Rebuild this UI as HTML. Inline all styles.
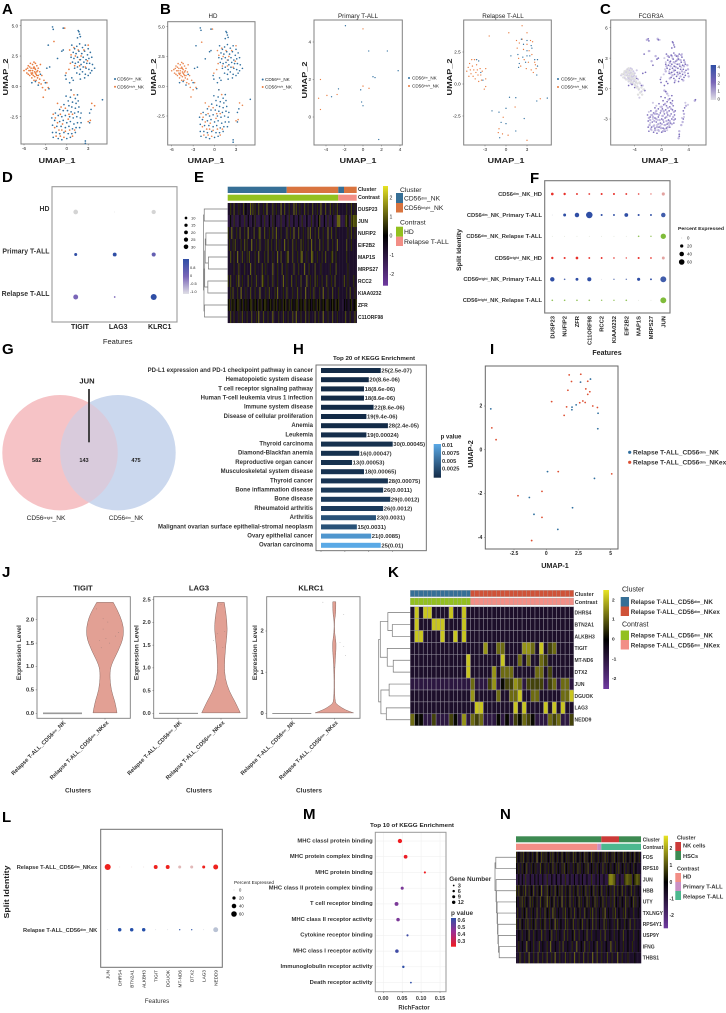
<!DOCTYPE html>
<html lang="en"><head><meta charset="utf-8"><title>Multi-panel single-cell figure</title>
<style>
html,body{margin:0;padding:0;background:#fff}
#figure{display:block;width:726px;height:1013px;font-family:"Liberation Sans",sans-serif;filter:blur(.25px)}
</style></head><body>
<svg id="figure" xmlns="http://www.w3.org/2000/svg" width="726" height="1013" viewBox="0 0 726 1013">
<defs>
<linearGradient id="heatGrad" x1="0" y1="0" x2="0" y2="1"><stop offset="0" stop-color="#e8e424"/><stop offset=".5" stop-color="#000"/><stop offset="1" stop-color="#6f3aa0"/></linearGradient>
<linearGradient id="purpleGrad" x1="0" y1="0" x2="0" y2="1"><stop offset="0" stop-color="#2f4ea5"/><stop offset=".5" stop-color="#7a66b8"/><stop offset="1" stop-color="#e0dfe6"/></linearGradient>
<linearGradient id="pGrad" x1="0" y1="0" x2="0" y2="1"><stop offset="0" stop-color="#5aa9e6"/><stop offset="1" stop-color="#132b47"/></linearGradient>
<linearGradient id="mGrad" x1="0" y1="0" x2="0" y2="1"><stop offset="0" stop-color="#3050a8"/><stop offset=".5" stop-color="#a02d90"/><stop offset="1" stop-color="#f01c20"/></linearGradient>
</defs>
<rect width="726" height="1013" fill="#fff"/>
<g id="pA"></g>
<g id="pB"></g>
<g id="pC"></g>
<g id="pD"></g>
<g id="pE"></g>
<g id="pF"></g>
<g id="pG">
<circle cx="60" cy="452.7" r="57.7" fill="#f6c3c6"/>
<circle cx="118" cy="452.7" r="57.7" fill="#cbd8ee"/>
<path d="M89 402.8A57.7 57.7 0 0 1 89 502.6A57.7 57.7 0 0 1 89 402.8Z" fill="#d9cbdc"/>
<line x1="89" y1="389" x2="89" y2="442.3" stroke="#333" stroke-width="1.8"/>
</g>
<g id="pH"></g>
<g id="pI"></g>
<g id="pJ"></g>
<g id="pK"></g>
<g id="pL"></g>
<g id="pM"></g>
<g id="pN"></g>
</svg>
<script>
/* ---------- data ---------- */
const dimCells=[[0.7,3.4],[1.1,3.1],[1.4,3.3],[1.8,3.5],[2.2,3.2],[2.6,3.4],[3.0,3.1],[0.9,2.8],[1.3,2.7],[1.7,2.9],[2.1,2.7],[2.5,2.9],[2.9,2.6],[3.3,2.8],[0.6,2.4],[1.0,2.3],[1.5,2.4],[1.9,2.2],[2.3,2.4],[2.7,2.2],[3.1,2.3],[3.5,2.4],[0.8,2.0],[1.2,1.9],[1.6,2.0],[2.0,1.8],[2.4,2.0],[2.8,1.9],[3.2,1.9],[3.6,1.8],[1.1,1.5],[1.5,1.6],[1.9,1.4],[2.3,1.6],[2.7,1.5],[3.1,1.4],[3.5,1.3],[3.9,1.5],[1.4,1.1],[1.8,1.0],[2.2,1.2],[2.6,1.0],[3.0,0.9],[3.3,1.1],[2.5,0.7],[1.9,0.6],[-2.0,4.9],[-1.9,4.7],[-2.6,3.4],[-0.5,4.8],[1.7,4.5],[1.8,4.3],[1.9,4.1],[1.5,4.0],[1.6,4.6],[-0.5,3.0],[-0.7,2.9],[-1.3,2.3],[-0.2,0.9],[-0.1,0.6],[0.7,0.7],[0.9,0.5],[-3.0,0.3],[-2.5,-0.2],[-2.8,1.5],[-2.4,1.6],[0.4,0.3],[0.6,-0.3],[-0.1,-0.8],[0.5,-0.9],[1.2,-1.0],[1.5,-0.7],[0.2,-1.2],[0.8,-1.3],[1.3,-1.4],[1.6,-1.2],[-0.4,-1.5],[0.3,-1.6],[0.7,-1.7],[1.2,-1.8],[1.7,-1.7],[-1.0,-1.9],[-0.5,-2.0],[0.1,-2.0],[0.6,-2.1],[1.1,-2.2],[1.6,-2.1],[2.0,-2.2],[-1.6,-2.2],[-1.2,-2.4],[-0.7,-2.5],[-0.2,-2.4],[0.4,-2.5],[0.9,-2.6],[1.4,-2.5],[1.9,-2.6],[-2.1,-2.6],[-1.7,-2.8],[-1.0,-2.9],[-0.5,-2.8],[0.0,-3.0],[0.5,-2.9],[1.0,-3.1],[1.5,-3.0],[2.0,-3.0],[-2.0,-3.2],[-1.4,-3.3],[-0.8,-3.3],[-0.2,-3.4],[0.3,-3.3],[0.8,-3.5],[1.3,-3.4],[1.8,-3.4],[-2.0,-3.8],[-1.5,-3.8],[-1.0,-3.9],[-0.4,-3.8],[0.2,-3.9],[0.7,-3.9],[1.2,-3.8],[-1.9,-4.2],[-1.2,-4.3],[-0.7,-4.4],[0.0,-4.3],[0.5,-4.2],[2.6,-4.7],[2.6,-4.5],[3.2,-2.2],[3.2,-3.0],[3.4,-1.9],[5.0,-1.1],[-4.4,0.4],[-4.0,0.1],[-3.7,1.0],[-4.9,0.3]];
const brightCells=[[-6.0,1.3],[-5.7,1.4],[-5.6,1.1],[-5.4,1.7],[-5.3,1.3],[-5.2,0.9],[-5.1,1.9],[-5.0,1.5],[-5.0,1.1],[-4.9,0.7],[-4.8,1.8],[-4.8,1.3],[-4.7,0.9],[-4.6,2.0],[-4.6,1.6],[-4.5,1.2],[-4.5,0.8],[-4.4,1.9],[-4.4,1.4],[-4.3,1.0],[-4.3,0.5],[-4.2,1.7],[-4.2,1.2],[-4.1,0.7],[-4.0,1.5],[-4.0,0.9],[-3.9,0.3],[-3.8,1.2],[-3.8,0.6],[-3.7,1.8],[-3.6,0.2],[-3.5,0.9],[-3.4,-0.1],[-3.2,0.5],[-3.0,-0.3],[-2.8,0.3],[-3.3,-0.9],[-2.6,-0.1],[-5.5,1.5],[-5.2,1.6],[-5.4,1.0],[-4.9,1.0],[-4.7,1.5],[-4.4,1.1],[-4.1,1.3],[-4.6,0.5],[-5.1,1.3],[-4.8,1.1],[-4.5,1.5],[-4.2,0.9],[1.0,3.2],[1.6,3.0],[2.4,3.0],[3.0,3.4],[0.4,3.0],[0.6,2.6],[1.2,2.5],[2.0,2.5],[2.9,2.1],[0.5,1.9],[1.1,1.7],[1.8,1.7],[-0.1,1.1],[0.3,1.4],[-1.8,3.7],[-0.3,4.8],[1.8,2.2],[2.6,1.6],[-1.3,-1.4],[-0.8,-1.7],[-0.2,-1.8],[-1.6,-2.6],[-0.9,-2.3],[0.3,-2.3],[0.8,-2.3],[-1.3,-3.0],[-0.6,-3.1],[0.2,-2.7],[-1.7,-3.4],[-1.1,-3.6],[-0.7,-3.6],[-0.2,-3.7],[-1.5,-4.1],[-0.9,-4.1],[-0.4,-4.2],[0.4,-3.6],[0.8,-4.1],[1.1,-3.6],[3.3,-2.8],[3.0,-2.9],[3.9,-1.6],[3.5,-1.4],[0.6,-0.3],[1.0,-0.7],[-1.9,-2.3]];
const primaryDim=[[-3.4,1.08],[-2.65,1.5],[-1.9,4.87],[-0.25,1.45],[-0.15,0.8],[0.62,3.52],[2.63,3.52],[3.8,2.47],[1.08,2.15],[1.3,2.1],[0,0.6],[1.7,-1.2]];
const primaryBright=[[-4.8,1.0],[-4.6,2.0],[-4.6,0.4],[-3.9,1.15],[-2.8,1.2],[0,1.65],[0.65,1.53],[0,4.7]];
const relapseDim=[[-4.2,1.9],[-3.9,1.8],[-3.6,0.9],[-3.3,0.3],[2.2,3.5],[2.5,3.1],[3.0,3.4],[3.6,3.0],[3.0,2.6],[3.7,2.8],[1.7,2.3],[2.4,2.1],[3.0,2.2],[3.4,2.2],[4.1,1.9],[4.5,1.9],[4.5,1.4],[2.8,1.7],[1.9,1.6],[1.8,1.3],[0.7,2.2],[4.4,0.7],[0.5,-1.04],[1.4,-1.07],[-2,-2.1],[-1,-2.2],[0,-1.9],[-0.7,-3],[0,-3.1],[1.4,-3.67],[2.6,-2.7],[4.4,-1.33],[5.9,-1.1],[-0.9,-4.2]];
const relapseBright=[[-5.6,1.0],[-5.4,1.3],[-5.3,0.6],[-5.2,1.6],[-5.1,1.1],[-5.0,0.8],[-4.9,1.9],[-4.8,1.4],[-4.7,0.6],[-4.6,1.1],[-4.5,1.9],[-4.4,0.4],[-4.3,0.9],[-4.2,1.5],[-4.1,1.1],[-4.0,0.7],[-3.9,0.2],[-3.7,1.2],[-3.6,0.7],[-3.5,0.3],[-3.4,1.0],[-2.9,1.2],[-2.9,0.4],[-3.1,-0.4],[-2.9,-0.2],[-2.4,3.75],[0.4,4.0],[2.3,4.55],[3.0,4.0],[1.5,3.4],[1.9,3.2],[2.3,3.5],[3.0,3.1],[3.5,3.4],[3.8,3.3],[1.6,2.8],[2.5,2.7],[3.3,2.6],[3.7,2.3],[1.8,2.0],[2.6,1.9],[3.2,1.7],[4.1,1.7],[2.1,1.4],[2.9,1.2],[3.6,1.1],[4.3,1.2],[3.9,0.9],[4.2,1.5],[1.3,-1.8],[-0.4,-2.6],[-1,-3.5],[-1.1,-3.8],[-0.5,-3.9],[0.3,-4],[4.9,-1.15],[3,-4.4]];
const fcgr3aLow=[[0.9,3.2],[1.5,3.2],[2.0,3.3],[2.4,3.2],[2.9,3.3],[1.2,2.6],[1.8,2.6],[2.3,2.8],[2.8,2.8],[3.4,2.6],[3.8,2.3],[0.7,2.2],[1.3,2.2],[2.1,2.1],[2.6,2.4],[3.3,2.2],[3.9,1.9],[0.6,1.7],[1.3,1.5],[1.8,1.8],[2.4,1.4],[3.0,1.7],[3.4,1.6],[4.0,1.2],[1.2,1.0],[1.6,1.3],[2.0,0.8],[2.8,1.2],[3.2,0.8],[0.4,-0.2],[0.8,-0.5],[1.0,-1.1],[0.5,-1.5],[1.5,-1.5],[0.0,-1.8],[0.9,-1.9],[1.4,-2.0],[-0.8,-2.2],[-0.1,-2.2],[0.3,-2.2],[0.8,-2.4],[1.8,-2.3],[-1.4,-2.6],[-1.0,-2.5],[-0.4,-2.6],[0.1,-2.7],[0.7,-2.8],[1.2,-2.7],[1.7,-2.8],[-1.9,-2.9],[-1.3,-2.8],[-0.8,-3.0],[-0.3,-3.1],[0.2,-3.1],[0.7,-3.2],[1.2,-3.2],[1.8,-3.1],[-1.7,-3.1],[-1.1,-3.2],[-0.5,-3.5],[0.0,-3.5],[0.5,-3.6],[1.0,-3.4],[1.5,-3.5],[-1.8,-3.6],[-1.2,-3.7],[-0.7,-3.8],[-0.1,-3.9],[0.4,-4.0],[0.9,-3.8],[-1.6,-4.0],[-1.0,-4.1],[-0.5,-4.1],[0.2,-4.2],[3.3,-2.5],[3.1,-3.3],[2.9,-3.6],[2.6,-4.2],[2.5,-4.9],[3.6,-1.7],[4.9,-1.2],[-2.2,4.8],[-0.6,4.9],[-1.9,3.7],[-0.9,3.2],[-1.5,2.7]];
const fcgr3aZero=[[-5.9,1.4],[-5.7,1.1],[-5.5,1.7],[-5.4,1.3],[-5.3,0.9],[-5.2,1.8],[-5.1,1.5],[-5.0,1.2],[-4.9,0.8],[-4.9,2.0],[-4.8,1.6],[-4.7,1.2],[-4.6,0.7],[-4.5,1.8],[-4.5,1.4],[-4.4,1.0],[-4.3,0.6],[-4.2,1.4],[-4.1,0.9],[-4.0,0.4],[-3.9,1.1],[-3.8,0.7],[-3.7,0.1],[-3.6,0.5],[-3.4,0.0],[-3.3,0.6],[-3.2,-0.4],[-3.0,0.1],[-2.9,-0.6],[-2.7,-0.1],[-3.5,-0.6],[-5.6,1.5],[-5.0,1.7],[-4.6,1.0],[-4.3,1.5],[-3.8,0.2]];

const heatValues=[-0.65,-1.0,0.1,0.8,1.3,1.8,2.4];
const eGenes=["DUSP23","JUN","NUFIP2","EIF2B2","MAP1S","MRPS27","RCC2","KIAA0232","ZFR","C11ORF98"];
const eRows=[
"00300400030004020005040300400030050000400300050040003000504003000400300040003005000400040030040000000300040030",
"11211311112111311211121311112113111211312111131112113111211121131112111311211241112113111211155511113421143544",
"30050003004000300500004000350004000300400500030000400300500040003000405000300400030005004000300000000030040030",
"03003040000300403000500030040000304003000400300050030004003000403000300500300040030004000300050000000400030000",
"00400300500040003040000300500003004000300050040000350004000300450003000540003000300400003400300000000300000000",
"00000300040000300005000300000400300000500030004000300000400030000500030000400003000000030000400000000030000000",
"30400003050030000400300040000530003000400030000500300040003000400005003000403000300040003004000000040030000300",
"00304000300500030004000300050000300400003050000300400003000400300050003004000030050003000400003000000300400030",
"23032302330230232023302320323023320232032302320323023032023302320330232023203230232033202320323000120200230223",
"00400300030040003000400030500040003000500003000400030004005000300040030000400300050003000400030000004000300040"];
const kGenes=["DHRS4","BTN2A1","ALKBH3","TIGIT","MT-ND6","DTX2","JUN","DGUOK","LAG3","NEDD9"];
const kRows=[
"06066000060060000000000000000000000000",
"06000666000060000000000000000000000000",
"06600006006060000000000000000000000000",
"00000000000000000500440000554060340000",
"00000000000006000000060004040043000000",
"00000000000006000005044400000440300000",
"11111111111111411135123354133331341441",
"00000000000000500000400446004400000446",
"00000000000000066000000060600006060600",
"42211311132151434111212132432111434113"];
const kGroupSplit=14;
const nGenes=["FOS","RPS10","JUN","HBB","UTY","TXLNGY","RPS4Y1","USP9Y","IFNG","THBS1"];
const nRows=[
"30203040203020302050204030302030402030204020303020403020302040302040302030203040302030402030204030203020402030",
"20300302040003020300040203003020400302003040203000302040300203040020300302004003020300203040020300302003020000",
"11211211311121112112111211131112111211121113111211121112112111211131112112111211146665531112111345544412345441",
"30402030400302040030205003040203004020304003020400302040030204003020400302040003020300400302040030020400300200",
"20030403020040302030040203050302040030205003020400300204030020403002040300204003000300402003020040300204030020",
"03000302040003020040030004020300503002000304002030040020300040200304003002003050020003040020003040020003000200",
"30040200304003020400030204000302005030020004030020400030204000302004003002000403002000300402000302004000300000",
"00200300020400030020004003000204000300200040030002040003000200400030002000300040002000300020004000200003000200",
"00300200050020030000400200030050002000300400020003000500020040003000200400030002000500030020003000200030000200",
"00040003000500030004000300040003005000300004000300050003000400030005000400030000400030000500030000300000200000"];

const dTerms=["TIGIT","LAG3","KLRC1"];
const dGroups=["HD","Primary T-ALL","Relapse T-ALL"];
const dPct=[[22,0.5,18],[9,15,17],[24,3,36]];
const dExpr=[[-1,-1,-1],[1,1,0.3],[0,0,1]];
const dLegendPct=[10,15,20,25,30];
const dLegendBar=["0.8","0","-0.5","-1.0"];

const fGenes=["DUSP23","NUFIP2","ZFR","C11ORF98","RCC2","KIAA0232","EIF2B2","MAP1S","MRPS27","JUN"];
const fPct=[[10,8,6,5,6,6,5,4,3,14],[1,12,28,60,6,5,20,6,5,28],[1,1,1,1,1,1,1,4,3,40],[8,6,10,5,5,4,3,6,4,12],[28,4,12,24,1,3,3,14,5,50],[4,4,4,4,3,3,4,1,1,50]];
const fExpr=[[1,1,.9,.8,1,1,.9,.8,.6,.35],[.1,1,1,1,1,1,1,1,1,.9],[.1,.1,.1,.1,.1,.1,.1,.8,.8,1],[1,1,1,.9,1,.8,.8,1,1,.35],[1,.8,1,1,.1,.7,.7,1,1,.9],[.8,.8,.8,.8,.8,.8,.8,.1,.1,1]];
const pctLegend=[0,20,40,60];

const vennCounts=[582,143,475];

const hTerms=["PD-L1 expression and PD-1 checkpoint pathway in cancer","Hematopoietic system disease","T cell receptor signaling pathway","Human T-cell leukemia virus 1 infection","Immune system disease","Disease of cellular proliferation","Anemia","Leukemia","Thyroid carcinoma","Diamond-Blackfan anemia","Reproductive organ cancer","Musculoskeletal system disease","Thyroid cancer","Bone inflammation disease","Bone disease","Rheumatoid arthritis","Arthritis","Malignant ovarian surface epithelial-stromal neoplasm","Ovary epithelial cancer","Ovarian carcinoma"];
const hCounts=[25,20,18,18,22,19,28,19,30,16,13,18,28,26,29,26,23,15,21,25];
const hPvals=[2.5e-7,8.6e-6,8.6e-6,8.6e-6,8.6e-6,9.4e-6,2.4e-5,0.00024,0.00045,0.00047,0.00053,0.00065,0.00075,0.0011,0.0012,0.0012,0.0031,0.0031,0.0085,0.01];
const hPvalLabels=["2.5e-07","8.6e-06","8.6e-06","8.6e-06","8.6e-06","9.4e-06","2.4e-05","0.00024","0.00045","0.00047","0.00053","0.00065","0.00075","0.0011","0.0012","0.0012","0.0031","0.0031","0.0085","0.01"];
const hLegendTicks=["0.01","0.0075","0.005","0.0025"];

const iDim=[[-4.3,1.87],[2.66,3.09],[3.43,3.23],[2.0,1.95],[1.99,1.83],[2.32,2.05],[4.02,1.67],[4,0.96],[0.1,-1.0],[3.74,-1.31],[-1.31,-2.18],[2.04,-2.65],[-0.95,-2.95],[0.9,-3.64]];
const iEx=[[1.78,3.42],[2.68,3.45],[1.96,3.12],[3.22,3.13],[1.68,2.72],[3.07,2.78],[3.38,2.65],[3.22,2.53],[0.42,2.2],[2.84,2.23],[2.6,2.15],[3.02,2.16],[3.61,2.0],[3.97,1.93],[1.58,1.96],[1.39,1.57],[-4.22,1.0],[-3.89,0.46],[0.93,-1],[5.08,-1.1],[-0.33,-1.9],[-2.19,-2.1],[-0.33,-3.09],[-1.13,-4.15]];

const tigitLevels=[2.37,2.03,1.66,1.32,1.03,0.82,0.5,0.25,0.01];
const tigitWidths=[8.3,17,19.3,13,6,4.7,6,10,12];
const tigitTicks=[0,0.5,1,1.5,2];
const tigitDots=[[-0.45,2.23],[-0.3,1.55],[-0.2,1.4],[-0.1,1.8],[0.05,1.6],[0.15,1.95],[0.25,1.5],[0.55,1.65],[0.7,1.73],[-0.1,2.02]];
const lag3Levels=[2.44,1.94,1.5,1.06,0.77,0.48,0.26,0.01];
const lag3Widths=[3.3,7,4.7,3.3,4,8.3,14,19.3];
const lag3Ticks=[0,0.5,1,1.5,2,2.5];
const lag3Dots=[[-0.4,1.6],[-0.2,1.75],[0.2,1.8],[0.1,1.45],[0.0,2.4]];
const klrc1Levels=[2.71,2.55,2.39,2.25,1.95,1.7,1.42,0.97,0.28,0.2,0.08,0.01];
const klrc1Widths=[1.5,1.5,1.2,0.2,0.2,2,1.3,0.2,0.3,3.3,11,19.3];
const klrc1Ticks=[0,1,2];
const klrc1Dots=[[-0.6,2.7],[0.5,2.4],[0.3,1.72],[0.5,1.62],[0.6,1.41],[0,1.12]];

const lGenes=["JUN","DHRS4","BTN2A1","ALKBH3","TIGIT","DGUOK","MT-ND6","DTX2","LAG3","NEDD9"];
const lPct=[[60,1,1,1,25,25,15,15,15,40],[1,20,20,20,1,1,3,3,1,40]];
const lExpr=[[1,.1,.1,.1,1,1,.2,.2,1,1],[.1,1,1,1,.1,.1,.9,.9,.1,.2]];

const mTerms=["MHC classI protein binding","MHC protein complex binding","MHC protein binding","MHC class II protein complex binding","T cell receptor binding","MHC class II receptor activity","Cytokine receptor binding","MHC class I receptor activity","Immunoglobulin receptor activity","Death receptor activity"];
const mRich=[0.044,0.059,0.110,0.050,0.035,0.039,0.064,0.036,0.053,0.073];
const mPval=[0.3,0.31,0.3,0.5,0.5,0.5,0.58,0.58,0.6,0.6];
const mGenes=[12,9,3,6,10,8,3,8,4,2];
const mXTicks=[0,0.05,0.1,0.15];
const mGeneLegend=[3,6,9,12];
const mPLegend=[0.6,0.5,0.4,0.3];

/* ---------- helpers ---------- */
const NS="http://www.w3.org/2000/svg";
function mk(tag,attrs,parent){const e=document.createElementNS(NS,tag);for(const k in attrs)e.setAttribute(k,attrs[k]);parent.appendChild(e);return e;}
function lin(d0,d1,r0,r1){return v=>r0+(v-d0)*(r1-r0)/(d1-d0);}
function label(g,x,y,s,name,o){o=o||{};
  const a={x:x,y:y,'font-size':o.size||5,'fill':o.fill||'#222','font-weight':o.weight||'normal','text-anchor':o.anchor||'start'};
  if(o.rot!==undefined)a.transform='rotate('+o.rot+' '+x+' '+y+')';
  if(o.len){a.textLength=o.len;a.lengthAdjust='spacingAndGlyphs';}
  const t=mk('text',a,g);
  t.innerHTML=s;
  
  
  return t;}
function cd(kind,sz){const q=(sz||5)*0.55;return 'CD56<tspan font-size="'+q+'" dy="-1">'+kind+'</tspan><tspan dy="1">_NK</tspan>';}
function frame(g,x0,y0,x1,y1,c,w){const r=mk('rect',{x:x0,y:y0,width:x1-x0,height:y1-y0,fill:'none',stroke:c||'#808080','stroke-width':w||1},g);
  
  return r;}
function xTicks(g,vals,sc,y,o){o=o||{};vals.forEach(v=>{
  const l=mk('line',{x1:sc(v),x2:sc(v),y1:y,y2:y+1.3,stroke:'#666','stroke-width':.5},g);
  
  
  label(g,sc(v),y+(o.dy||6),o.fmt?o.fmt(v):v,'x-tick-label',{size:o.size||4.6,anchor:'middle',weight:o.weight,fill:o.fill});});}
function yTicks(g,vals,sc,x,o){o=o||{};vals.forEach(v=>{
  const l=mk('line',{x1:x-1.3,x2:x,y1:sc(v),y2:sc(v),stroke:'#666','stroke-width':.5},g);
  
  
  label(g,x-(o.dx||3),sc(v)+1.7,o.fmt?o.fmt(v):v,'y-tick-label',{size:o.size||4.6,anchor:'end',weight:o.weight,fill:o.fill});});}
function dots(g,pts,sx,sy,r,c,op,name){pts.forEach(p=>{
  const e=mk('circle',{cx:sx(p[0]),cy:sy(p[1]),r:r,fill:c,'fill-opacity':op||1},g);
  
  });}
function mix(a,b,t){return 'rgb('+[0,1,2].map(i=>Math.round(a[i]+(b[i]-a[i])*t)).join(',')+')';}
function heatColor(v){return v>=0?mix([0,0,0],[232,228,36],Math.min(1,v/2.5)):mix([0,0,0],[111,58,160],Math.min(1,-v/2.5));}
function heatmap(g,rows,x0,x1,y0,y1,grid,gain){const rh=(y1-y0)/rows.length;
  rows.forEach((row,i)=>{const cw=(x1-x0)/row.length;
    row.split('').forEach((d,j)=>{
      const raw=heatValues[+d];
      const v=raw>0?raw*(gain||1):raw;
      const a={x:x0+j*cw,y:y0+i*rh,width:grid?cw:cw+.25,height:grid?rh:rh+.05,fill:heatColor(v)};
      if(grid){a.stroke='#9c98a4';a['stroke-width']=.45;}
      const c=mk('rect',a,g);
      
      });});}
function colorBar(g,x0,x1,y0,y1,grad,name){const r=mk('rect',{x:x0,y:y0,width:x1-x0,height:y1-y0,fill:'url(#'+grad+')'},g);
  
  }
function band(g,x0,x1,y0,y1,c,name){const r=mk('rect',{x:x0,y:y0,width:x1-x0,height:y1-y0,fill:c},g);
  
  }
function dendro(g,tree,xL,xR,rowY){const X=h=>xR-(xR-xL)*h;
  function walk(n){if(typeof n==='number')return {x:xR,y:rowY(n)};
    const a=walk(n[1]),b=walk(n[2]),x=X(n[0]);
    const p=mk('path',{d:'M'+a.x+' '+a.y+'H'+x+'V'+b.y+'H'+b.x,fill:'none',stroke:'#777','stroke-width':.7},g);
    
    
    return {x:x,y:(a.y+b.y)/2};}
  walk(tree);}
const G=id=>document.getElementById(id);
const letter=(g,x,y,s)=>label(g,x,y,s,'panel-letter',{size:15,weight:'bold',fill:'#000'});
const sup=(s,q)=>'<tspan font-size="'+q+'" dy="-1">dim</tspan><tspan dy="1">'+s+'</tspan>';

/* ---------- A ---------- */
(function(){const g=G('pA');const sx=lin(-6,3,24,88.2),sy=lin(5,-2.5,25.7,116.7);
 letter(g,2,14,'A');frame(g,21,20,107,144);
 dots(g,brightCells,sx,sy,.85,'#e87b3f',1,'bright-cell');dots(g,dimCells,sx,sy,.85,'#2f6f9f',1,'dim-cell');
 xTicks(g,[-6,-3,0,3],sx,144);yTicks(g,[5,2.5,0,-2.5],sy,21,{fmt:v=>v.toFixed(1)});
 label(g,57,163,'UMAP_1','x-axis-title',{size:7,weight:'bold',anchor:'middle',len:37});
 label(g,8,77,'UMAP_2','y-axis-title',{size:7,weight:'bold',anchor:'middle',rot:-90,len:37});
 dots(g,[[115,79]],v=>v,v=>v,1,'#2f6f9f',1,'legend-dim-dot');dots(g,[[115,86.7]],v=>v,v=>v,1,'#e87b3f',1,'legend-bright-dot');
 label(g,117,80.6,cd('dim',4.6),'legend-dim-label',{size:4.6});label(g,117,88.3,cd('bright',4.6),'legend-bright-label',{size:4.6});
})();
/* ---------- B ---------- */
(function(){const g=G('pB');letter(g,160,14,'B');
 let sx=lin(-6,3,171.7,236),sy=lin(5,-2.5,26.7,116);
 frame(g,167.7,21.7,255,145);dots(g,brightCells,sx,sy,.8,'#e87b3f',.9,'bright-cell');dots(g,dimCells,sx,sy,.8,'#2f6f9f',1,'dim-cell');
 xTicks(g,[-6,-3,0,3],sx,145);yTicks(g,[5,2.5,0,-2.5],sy,167.7,{fmt:v=>v.toFixed(1)});
 label(g,213,18,'HD','hd-title',{size:6.2,anchor:'middle'});
 label(g,206,163,'UMAP_1','x-axis-title',{size:7,weight:'bold',anchor:'middle',len:37});
 label(g,156,77,'UMAP_2','y-axis-title',{size:7,weight:'bold',anchor:'middle',rot:-90,len:37});
 dots(g,[[262.7,79.5]],v=>v,v=>v,1,'#2f6f9f',1,'legend-dim-dot');dots(g,[[262.7,87]],v=>v,v=>v,1,'#e87b3f',1,'legend-bright-dot');
 label(g,265,81,cd('dim',4.6),'legend-dim-label',{size:4.6});label(g,265,88.6,cd('bright',4.6),'legend-bright-label',{size:4.6});
 sx=lin(-4,4,326,400);sy=lin(4,0,42,117);
 frame(g,314,20,402.3,145);dots(g,primaryBright,sx,sy,.65,'#e87b3f',1,'bright-cell');dots(g,primaryDim,sx,sy,.65,'#2f6f9f',1,'dim-cell');
 xTicks(g,[-4,-2,0,2,4],sx,145);yTicks(g,[4,2,0],sy,314);
 label(g,358,18,'Primary T-ALL','primary-title',{size:6.3,anchor:'middle'});
 label(g,358,163,'UMAP_1','x-axis-title',{size:7,weight:'bold',anchor:'middle',len:37});
 label(g,307,80,'UMAP_2','y-axis-title',{size:7,weight:'bold',anchor:'middle',rot:-90,len:37});
 dots(g,[[409,78]],v=>v,v=>v,1,'#2f6f9f',1,'legend-dim-dot');dots(g,[[409,86]],v=>v,v=>v,1,'#e87b3f',1,'legend-bright-dot');
 label(g,412,79.6,cd('dim',4.6),'legend-dim-label',{size:4.6});label(g,412,87.6,cd('bright',4.6),'legend-bright-label',{size:4.6});
 sx=lin(-3,3,485,527);sy=lin(2.5,-2.5,52,116);
 frame(g,463.7,20,551.3,145);dots(g,relapseBright,sx,sy,.65,'#e87b3f',1,'bright-cell');dots(g,relapseDim,sx,sy,.65,'#2f6f9f',1,'dim-cell');
 xTicks(g,[-3,0,3],sx,145);yTicks(g,[2.5,0,-2.5],sy,463.7,{fmt:v=>v.toFixed(1)});
 label(g,503,18,'Relapse T-ALL','relapse-title',{size:6.3,anchor:'middle'});
 label(g,506,163,'UMAP_1','x-axis-title',{size:7,weight:'bold',anchor:'middle',len:37});
 label(g,452,77,'UMAP_2','y-axis-title',{size:7,weight:'bold',anchor:'middle',rot:-90,len:37});
 dots(g,[[558,79]],v=>v,v=>v,1,'#2f6f9f',1,'legend-dim-dot');dots(g,[[558,87]],v=>v,v=>v,1,'#e87b3f',1,'legend-bright-dot');
 label(g,561,80.6,cd('dim',4.6),'legend-dim-label',{size:4.6});label(g,561,88.6,cd('bright',4.6),'legend-bright-label',{size:4.6});
})();
/* ---------- C ---------- */
(function(){const g=G('pC');letter(g,600,14,'C');const sx=lin(-4,4,634.7,688.7),sy=lin(6,-3,27.7,119);
 frame(g,610.7,20,706,145);
 dots(g,brightCells,sx,sy,1.05,'#cfc9e4',1,'low-expression-cell');
 dots(g,fcgr3aLow,sx,sy,1.2,'#b9afdc',.9,'low-expression-cell');
 dots(g,dimCells,sx,sy,.85,'#6f5fb5',.9,'high-expression-cell');
 dots(g,fcgr3aZero,sx,sy,1.2,'#e0e0e0',1,'zero-expression-cell');
 xTicks(g,[-4,0,4],sx,145);yTicks(g,[6,3,0,-3],sy,610.7);
 label(g,651,18,'FCGR3A','fcgr3a-title',{size:6.2,anchor:'middle'});
 label(g,660,163,'UMAP_1','x-axis-title',{size:7,weight:'bold',anchor:'middle',len:37});
 label(g,603,77,'UMAP_2','y-axis-title',{size:7,weight:'bold',anchor:'middle',rot:-90,len:37});
 colorBar(g,710.7,716,65,100,'purpleGrad','fcgr3a-colorbar');
 const sc=lin(4,0,67,99);[4,3,2,1,0].forEach(v=>label(g,717.5,sc(v)+1.6,v,'colorbar-tick-label',{size:4.4}));
})();
/* ---------- D ---------- */
(function(){const g=G('pD');letter(g,2,182,'D');frame(g,52,186.7,177,322,'#9a9a9a',1.1);
 const sx=lin(0,2,75.7,153.7),sy=lin(0,2,212,297);
 const cc=v=>v<0?'#d4d4d4':mix([122,102,184],[47,78,165],v);
 dPct.forEach((row,i)=>row.forEach((p,j)=>{const c=mk('circle',{cx:sx(j),cy:sy(i),r:Math.sqrt(p)*.5,fill:cc(dExpr[i][j])},g);
  
  }));
 dGroups.forEach((s,i)=>label(g,49.5,sy(i)-1,s,'group-label',{size:6.9,weight:'bold',anchor:'end',fill:'#333'}));
 const dOff=[4.3,3.5,6];
 dTerms.forEach((s,j)=>label(g,sx(j)+dOff[j],329,s,'gene-label',{size:7,weight:'bold',anchor:'middle'}));
 label(g,117.7,344,'Features','x-axis-title',{size:7.5,anchor:'middle'});
 dLegendPct.forEach((p,i)=>{const y=218+i*7.2;const c=mk('circle',{cx:186,cy:y,r:Math.sqrt(p)*.42,fill:'#000'},g);
  
  
  label(g,191,y+1.5,p,'size-legend-label',{size:4});});
 colorBar(g,183,189,259,294,'purpleGrad','avg-expression-colorbar');
 dLegendBar.forEach((s,i)=>label(g,190,268+i*8+1,s,'colorbar-tick-label',{size:3.9}));
})();
/* ---------- E ---------- */
(function(){const g=G('pE');letter(g,194,182,'E');
 band(g,227.7,286.7,186.7,193,'#366f96','cluster-dim');band(g,286.7,338.3,186.7,193,'#d9743f','cluster-bright');band(g,338.3,344,186.7,193,'#366f96','cluster-dim');band(g,344,356.7,186.7,193,'#d9743f','cluster-bright');
 band(g,227.7,338.3,194.7,200.7,'#93c01f','contrast-hd');band(g,338.3,356.7,194.7,200.7,'#f28e86','contrast-relapse');
 heatmap(g,eRows,227.7,356.7,203,323,false,.6);
 const ry=i=>203+(i+.5)*12;
 dendro(g,[1,[.97,0,1],[.98,[.95,[.93,[.9,2,3],[.8,4,5]],[.82,6,7]],[.96,8,9]]],203.5,227.7,ry);
 eGenes.forEach((s,i)=>label(g,358,ry(i)+1.8,s,'gene-label',{size:5,weight:'bold'}));
 label(g,358,191,'Cluster','cluster-bar-label',{size:5.3,weight:'bold'});label(g,358,199,'Contrast','contrast-bar-label',{size:5.3,weight:'bold'});
 colorBar(g,383,388,186,285.7,'heatGrad','heat-colorbar');
 [[2,199.5],[1,218.5],[0,237.5],[-1,257],[-2,276]].forEach(p=>label(g,389.5,p[1],p[0],'colorbar-tick-label',{size:5.2}));
 label(g,400,192,'Cluster','legend-title',{size:6.8});
 band(g,396,403,193,203,'#366f96','legend-swatch');band(g,396,403,203,212.5,'#d9743f','legend-swatch');
 label(g,404,200.5,cd('dim',6.7),'legend-label',{size:6.7});label(g,404,210,cd('bright',6.7),'legend-label',{size:6.7});
 label(g,400,224.5,'Contrast','legend-title',{size:6.8});
 band(g,396,403,226.7,236.7,'#93c01f','legend-swatch');band(g,396,403,236.7,246,'#f28e86','legend-swatch');
 label(g,404,234,'HD','legend-label',{size:6.8});label(g,404,244,'Relapse T-ALL','legend-label',{size:6.8});
})();
/* ---------- F ---------- */
(function(){const g=G('pF');letter(g,530,183,'F');frame(g,544.7,180.7,670,313,'#777',1.1);
 const sx=lin(0,9,552.3,663.3),ys=[194,215,236.3,258,279.3,300.3];
 const cols=[[232,48,42],[47,78,165],[127,188,58],[232,48,42],[47,78,165],[127,188,58]];
 const names=[['dim','HD'],['dim','Primary T-ALL'],['dim','Relapse T-ALL'],['bright','HD'],['bright','Primary T-ALL'],['bright','Relapse T-ALL']];
 fPct.forEach((row,i)=>row.forEach((p,j)=>{
  const c=mk('circle',{cx:sx(j),cy:ys[i],r:Math.sqrt(p)*.42,fill:mix([225,225,225],cols[i],fExpr[i][j])},g);
  
  }));
 names.forEach((n,i)=>label(g,542,ys[i]+1.9,'CD56<tspan font-size="3.3" dy="-1">'+n[0]+'</tspan><tspan dy="1">_NK_'+n[1]+'</tspan>','split-label',{size:5.8,weight:'bold',anchor:'end',fill:'#333'}));
 fGenes.forEach((s,j)=>label(g,sx(j)+2,316,s,'gene-label',{size:5.8,weight:'bold',anchor:'end',rot:-90}));
 label(g,607,355,'Features','x-axis-title',{size:7,weight:'bold',anchor:'middle'});
 label(g,461,250,'Split Identity','y-axis-title',{size:6.5,weight:'bold',anchor:'middle',rot:-90,len:42});
 label(g,678,230,'Percent Expressed','legend-title',{size:4.6,weight:'bold',len:46});
 pctLegend.forEach((p,i)=>{const y=238+i*8;const c=mk('circle',{cx:681.7,cy:y,r:p?Math.sqrt(p)*.36:.5,fill:p?'#000':'#ccc'},g);
  
  
  label(g,687,y+1.6,p,'size-legend-label',{size:4.4});});
})();
/* ---------- G ---------- */
(function(){const g=G('pG');letter(g,2,354,'G');
 label(g,87,383.5,'JUN','jun-label',{size:7.6,weight:'bold',anchor:'middle'});
 [36.7,84,136].forEach((x,i)=>label(g,x,462,vennCounts[i],'venn-count',{size:5.6,weight:'bold',anchor:'middle'}));
 label(g,46,520,cd('bright',6.6),'venn-set-label',{size:6.6,anchor:'middle'});
 label(g,126,520,cd('dim',6.4),'venn-set-label',{size:6.4,anchor:'middle'});
})();
/* ---------- H ---------- */
(function(){const g=G('pH');letter(g,293,354,'H');
 label(g,374,360,'Top 20 of KEGG Enrichment','chart-title',{size:5.8,weight:'bold',anchor:'middle',len:82});
 frame(g,316,365,426.3,550.7,'#666',.9);
 const sx=v=>321+v*2.39,sy=i=>370.5+i*9.2;
 const pc=p=>mix([19,43,71],[90,169,230],p/0.01);
 hTerms.forEach((s,i)=>{
  const r=mk('rect',{x:321,y:sy(i)-2.5,width:sx(hCounts[i])-321,height:5,fill:pc(hPvals[i])},g);
  
  
  label(g,313,sy(i)+1.4,s,'pathway-label',{size:6,weight:'bold',anchor:'end',fill:'#333'});
  label(g,sx(hCounts[i])+.6,sy(i)+2,hCounts[i]+'('+hPvalLabels[i]+')','bar-value-label',{size:5.9,weight:'bold',fill:'#333'});
 });
 [0,10,20,30].forEach(v=>{const l=mk('line',{x1:sx(v),x2:sx(v),y1:550.7,y2:552,stroke:'#666','stroke-width':.5},g);
  
  });
 label(g,451,438.5,'p value','legend-title',{size:6,weight:'bold',anchor:'middle'});
 colorBar(g,433.7,441,444,477.7,'pGrad','pvalue-colorbar');
 hLegendTicks.forEach((s,i)=>label(g,442,447+i*7.9,s,'colorbar-tick-label',{size:5.7,weight:'bold',fill:'#333'}));
})();
/* ---------- I ---------- */
(function(){const g=G('pI');letter(g,490,354,'I');frame(g,485.3,366,618,549,'#666',1);
 const sx=lin(-2.5,5,514,610.7),sy=lin(2,-4,406,537.3);
 dots(g,iDim,sx,sy,.9,'#2f6f9f',1,'nk-cell');dots(g,iEx,sx,sy,.9,'#dd4f32',1,'nkex-cell');
 xTicks(g,[-2.5,0,2.5,5],sx,549,{weight:'bold',size:5,fmt:v=>v});yTicks(g,[2,0,-2,-4],sy,485.3,{weight:'bold',size:5});
 label(g,555,568,'UMAP-1','x-axis-title',{size:7.2,weight:'bold',anchor:'middle'});
 label(g,473,454,'UMAP-2','y-axis-title',{size:7.2,weight:'bold',anchor:'middle',rot:-90});
 dots(g,[[629.7,452.3]],v=>v,v=>v,1.6,'#2f6f9f',1,'legend-nk-dot');dots(g,[[629.7,462.3]],v=>v,v=>v,1.6,'#dd4f32',1,'legend-nkex-dot');
 label(g,633,454.3,'Relapse T-ALL_CD56'+sup('_NK',3.6),'legend-label',{size:6.6,weight:'bold',fill:'#333'});
 label(g,633,464.3,'Relapse T-ALL_CD56'+sup('_NKex',3.6),'legend-label',{size:6.6,weight:'bold',fill:'#333'});
})();
/* ---------- J ---------- */
(function(){const g=G('pJ');letter(g,2,577,'J');
 function violin(cfg){
  frame(g,cfg.x0,596.7,cfg.x1,718.3,'#7d7d7d',.9);
  const sy=lin(cfg.d0,cfg.d1,713.3,cfg.r1);
  const R=cfg.levels.map((l,i)=>[cfg.cx+cfg.widths[i],sy(l)]),L=cfg.levels.map((l,i)=>[cfg.cx-cfg.widths[i],sy(l)]).reverse();
  const smooth=a=>{let d='';for(let i=1;i<a.length-1;i++){d+='Q'+a[i][0]+' '+a[i][1]+' '+(a[i][0]+a[i+1][0])/2+' '+(a[i][1]+a[i+1][1])/2;}return d+'L'+a[a.length-1][0]+' '+a[a.length-1][1];};
  const p=mk('path',{d:'M'+R[0][0]+' '+R[0][1]+smooth(R)+'L'+L[0][0]+' '+L[0][1]+smooth(L)+'Z',fill:'#e2a094',stroke:'#8a6a64','stroke-width':.5},g);
  
  
  const f=mk('line',{x1:cfg.cx-62,x2:cfg.cx-23,y1:sy(0),y2:sy(0),stroke:cfg.flat,'stroke-width':cfg.flatW},g);
  
  
  cfg.dots.forEach(d=>{const c=mk('circle',{cx:cfg.cx+d[0]*19,cy:sy(d[1]),r:.3,fill:'#666'},g);
   
   });
  yTicks(g,cfg.ticks,sy,cfg.x0,{size:5.8,weight:'bold',fmt:cfg.fmt,fill:'#333'});
  label(g,cfg.titleX,590.5,cfg.title,'violin-title',{size:7.6,weight:'bold',anchor:'middle'});
  label(g,cfg.yLabelX,652.7,'Expression Level','y-axis-title',{size:6.7,weight:'bold',anchor:'middle',rot:-90,fill:'#333'});
  [cfg.cx-62+19,cfg.cx].forEach((x,i)=>{
   const l=mk('line',{x1:x,x2:x,y1:718.3,y2:719.6,stroke:'#666','stroke-width':.5},g);
   
   
   label(g,x+4,723,'Relapse T-ALL_CD56'+sup('_NK'+(i?'ex':''),3.2),'x-tick-label',{size:5.7,weight:'bold',anchor:'end',rot:-45,fill:'#333'});});
  label(g,cfg.clX,792.5,'Clusters','x-axis-title',{size:6.5,anchor:'middle',weight:'bold',fill:'#333'});
 }
 violin({x0:37,x1:130.3,cx:105,d0:0,d1:2,r1:619.7,levels:tigitLevels,widths:tigitWidths,dots:tigitDots,ticks:tigitTicks,fmt:v=>v.toFixed(1),title:'TIGIT',titleX:83,clX:78,yLabelX:21,flat:'#9a9a9a',flatW:1.6});
 violin({x0:153.7,x1:247,cx:221,d0:0,d1:2.5,r1:599.7,levels:lag3Levels,widths:lag3Widths,dots:lag3Dots,ticks:lag3Ticks,fmt:v=>v.toFixed(1),title:'LAG3',titleX:199,clX:199,yLabelX:138.7,flat:'#777',flatW:.8});
 violin({x0:266.7,x1:360,cx:334.3,d0:0,d1:2,r1:631,levels:klrc1Levels,widths:klrc1Widths,dots:klrc1Dots,ticks:klrc1Ticks,title:'KLRC1',titleX:311,clX:309,yLabelX:257,flat:'#555',flatW:.7});
})();
/* ---------- K ---------- */
(function(){const g=G('pK');letter(g,388,577,'K');
 const x0=410.3,x1=573.7,cw=(x1-x0)/kRows[0].length;
 const cellBand=(i0,i1,y0,y1,c,name)=>{for(let i=i0;i<i1;i++){const r=mk('rect',{x:x0+i*cw,y:y0,width:cw,height:y1-y0,fill:c,stroke:'#a8a8a8','stroke-width':.3},g);
  
  }};
 cellBand(0,kGroupSplit,590.3,596.7,'#366f96','cluster-nk');cellBand(kGroupSplit,38,590.3,596.7,'#cf5238','cluster-nkex');
 cellBand(0,kGroupSplit,598,605,'#93c01f','contrast-nk');cellBand(kGroupSplit,38,598,605,'#f28e86','contrast-nkex');
 heatmap(g,kRows,x0,x1,606.7,725.7,true,.9);
 const ry=i=>606.7+(i+.5)*11.9;
 dendro(g,[1,[.95,[.71,0,[.57,1,2]],[.73,3,[.54,4,5]]],[.93,[.67,6,7],[.76,8,9]]],378.7,x0,ry);
 kGenes.forEach((s,i)=>label(g,574.5,ry(i)+1.8,s,'gene-label',{size:5,weight:'bold',fill:'#333'}));
 label(g,574.8,596,'Cluster','cluster-bar-label',{size:5.5,weight:'bold',fill:'#333'});label(g,574.8,604,'Contrast','contrast-bar-label',{size:5.5,weight:'bold',fill:'#333'});
 colorBar(g,603.3,609,590,689,'heatGrad','heat-colorbar');
 [[2,601.5],[1,620.5],[0,640.5],[-1,660.5],[-2,680]].forEach(p=>label(g,612,p[1],p[0],'colorbar-tick-label',{size:4.8,weight:'bold'}));
 const leg=(y,a,b)=>{band(g,620.7,629,y,y+9.5,a,'legend-swatch');band(g,620.7,629,y+9.5,y+19,b,'legend-swatch');
  label(g,630.7,y+7,'Relapse T-ALL_CD56'+sup('_NK',3.5),'legend-label',{size:6.3,weight:'bold',fill:'#333'});
  label(g,630.7,y+17,'Relapse T-ALL_CD56'+sup('_NKex',3.5),'legend-label',{size:6.3,weight:'bold',fill:'#333'});};
 label(g,622,591.5,'Cluster','legend-title',{size:7});leg(597,'#366f96','#cf5238');
 label(g,622,626.5,'Contrast','legend-title',{size:7});leg(630.5,'#93c01f','#f28e86');
})();
/* ---------- L ---------- */
(function(){const g=G('pL');letter(g,2,822,'L');frame(g,100.7,829.3,222.3,967.3,'#6f6f6f',1);
 const sx=lin(0,9,107.7,215.7),ys=[867,929.7],cols=[[238,34,30],[38,80,170]];
 lPct.forEach((row,i)=>row.forEach((p,j)=>{
  const c=mk('circle',{cx:sx(j),cy:ys[i],r:Math.sqrt(p)*.39,fill:mix([222,222,222],cols[i],lExpr[i][j])},g);
  
  }));
 label(g,97.3,869,'Relapse T-ALL_CD56'+sup('_NKex',3.2),'split-label',{size:5.7,weight:'bold',anchor:'end',fill:'#333'});
 label(g,97.3,932,'Relapse T-ALL_CD56'+sup('_NK',3.2),'split-label',{size:5.7,weight:'bold',anchor:'end',fill:'#333'});
 lGenes.forEach((s,j)=>label(g,sx(j)+1.6,970,s,'gene-label',{size:4.7,anchor:'end',rot:-90}));
 label(g,157,1003,'Features','x-axis-title',{size:6.2,anchor:'middle',fill:'#333'});
 label(g,9,892,'Split Identity','y-axis-title',{size:7.5,weight:'bold',anchor:'middle',rot:-90,len:53});
 label(g,234,884,'Percent Expressed','legend-title',{size:4.4,len:40});
 pctLegend.forEach((p,i)=>{const y=890+i*8;const c=mk('circle',{cx:234,cy:y,r:p?Math.sqrt(p)*.36:.5,fill:p?'#000':'#ccc'},g);
  
  
  label(g,239,y+1.6,p,'size-legend-label',{size:4.2});});
})();
/* ---------- M ---------- */
(function(){const g=G('pM');letter(g,303,819,'M');
 const sx=lin(0,0.15,383.3,440),sy=i=>841+i*15.73;
 const pc=p=>p>=.45?mix([160,45,144],[48,80,168],(p-.45)/.15):mix([240,28,32],[160,45,144],(p-.3)/.15);
 mXTicks.forEach(v=>{const l=mk('line',{x1:sx(v),x2:sx(v),y1:832.3,y2:991.7,stroke:'#eee','stroke-width':.5},g);
  
  });
 mTerms.forEach((s,i)=>{const l=mk('line',{x1:375.3,x2:446,y1:sy(i),y2:sy(i),stroke:'#eee','stroke-width':.5},g);
  
  
  const c=mk('circle',{cx:sx(mRich[i]),cy:sy(i),r:Math.sqrt(mGenes[i])*.62,fill:pc(mPval[i])},g);
  
  
  label(g,372.7,sy(i)+1.3,s,'pathway-label',{size:5.85,weight:'bold',anchor:'end',fill:'#333'});});
 frame(g,375.3,832.3,446,991.7,'#999',1);
 xTicks(g,mXTicks,sx,991.7,{weight:'bold',size:5.4,dy:8.5,fmt:v=>v.toFixed(2),fill:'#333'});
 label(g,412,827,'Top 10 of KEGG Enrichment','chart-title',{size:5.8,weight:'bold',anchor:'middle',len:84});
 label(g,414,1009.5,'RichFactor','x-axis-title',{size:6,weight:'bold',anchor:'middle',fill:'#333'});
 label(g,449.3,881,'Gene Number','legend-title',{size:6.4,weight:'bold',fill:'#333'});
 mGeneLegend.forEach((n,i)=>{const y=885.5+i*5.6;const c=mk('circle',{cx:453.7,cy:y,r:Math.sqrt(n)*.5,fill:'#000'},g);
  
  
  label(g,457.7,y+1.9,n,'size-legend-label',{size:5.6,weight:'bold',fill:'#333'});});
 label(g,451,915,'p value','legend-title',{size:6.4,weight:'bold',fill:'#333'});
 colorBar(g,451,456,918,946.7,'mGrad','pvalue-colorbar');
 const ly=lin(.6,.3,920,941);mPLegend.forEach(v=>label(g,457.5,ly(v)+1.9,v.toFixed(1),'colorbar-tick-label',{size:5.6,weight:'bold',fill:'#333'}));
})();
/* ---------- N ---------- */
(function(){const g=G('pN');letter(g,500,819,'N');
 band(g,516,601.3,836.3,842.3,'#3d8a52','cluster-hsc');band(g,601.3,619,836.3,842.3,'#cb3a38','cluster-nk');band(g,619,641,836.3,842.3,'#3d8a52','cluster-hsc');
 band(g,516,597.3,843.7,850,'#f28e86','contrast-hd');band(g,597.3,601.3,843.7,850,'#c98fc4','contrast-primary');band(g,601.3,641,843.7,850,'#4cb88f','contrast-relapse');
 heatmap(g,nRows,516,641,851.7,963.3,false,.6);
 const ry=i=>851.7+(i+.5)*11.16;
 dendro(g,[1,[.96,0,1],[.95,2,[.93,3,[.9,4,[.88,5,[.86,6,[.84,7,[.8,8,9]]]]]]]],495,516,ry);
 nGenes.forEach((s,i)=>label(g,642.7,ry(i)+1.8,s,'gene-label',{size:5,weight:'bold',fill:'#333'}));
 label(g,642.7,841.5,'Cluster','cluster-bar-label',{size:5,weight:'bold',fill:'#333'});label(g,642.7,849,'Contrast','contrast-bar-label',{size:5,weight:'bold',fill:'#333'});
 colorBar(g,663.7,668,835.7,928.3,'heatGrad','heat-colorbar');
 [[2,850],[1,867],[0,884],[-1,900.5],[-2,917]].forEach(p=>label(g,669.5,p[1],p[0],'colorbar-tick-label',{size:5,weight:'bold',fill:'#333'}));
 label(g,677,839.5,'Cluster','legend-title',{size:5.4,weight:'bold',fill:'#333'});
 band(g,675.3,681,842,851,'#cb3a38','legend-swatch');band(g,675.3,681,851,860,'#3d8a52','legend-swatch');
 label(g,683,847.5,'NK cells','legend-label',{size:5.7,weight:'bold',fill:'#333'});label(g,683,858,'HSCs','legend-label',{size:5.7,weight:'bold',fill:'#333'});
 label(g,677,870.5,'Contrast','legend-title',{size:5.4,weight:'bold',fill:'#333'});
 band(g,675.3,681,873,882,'#f28e86','legend-swatch');band(g,675.3,681,882,891,'#c98fc4','legend-swatch');band(g,675.3,681,891,900,'#4cb88f','legend-swatch');
 label(g,683,878.5,'HD','legend-label',{size:5.8,weight:'bold',fill:'#333'});label(g,683,888.5,'Primary T-ALL','legend-label',{size:5.8,weight:'bold',fill:'#333'});label(g,683,898.5,'Relapse T-ALL','legend-label',{size:5.8,weight:'bold',fill:'#333'});
})();
</script>
</body></html>
